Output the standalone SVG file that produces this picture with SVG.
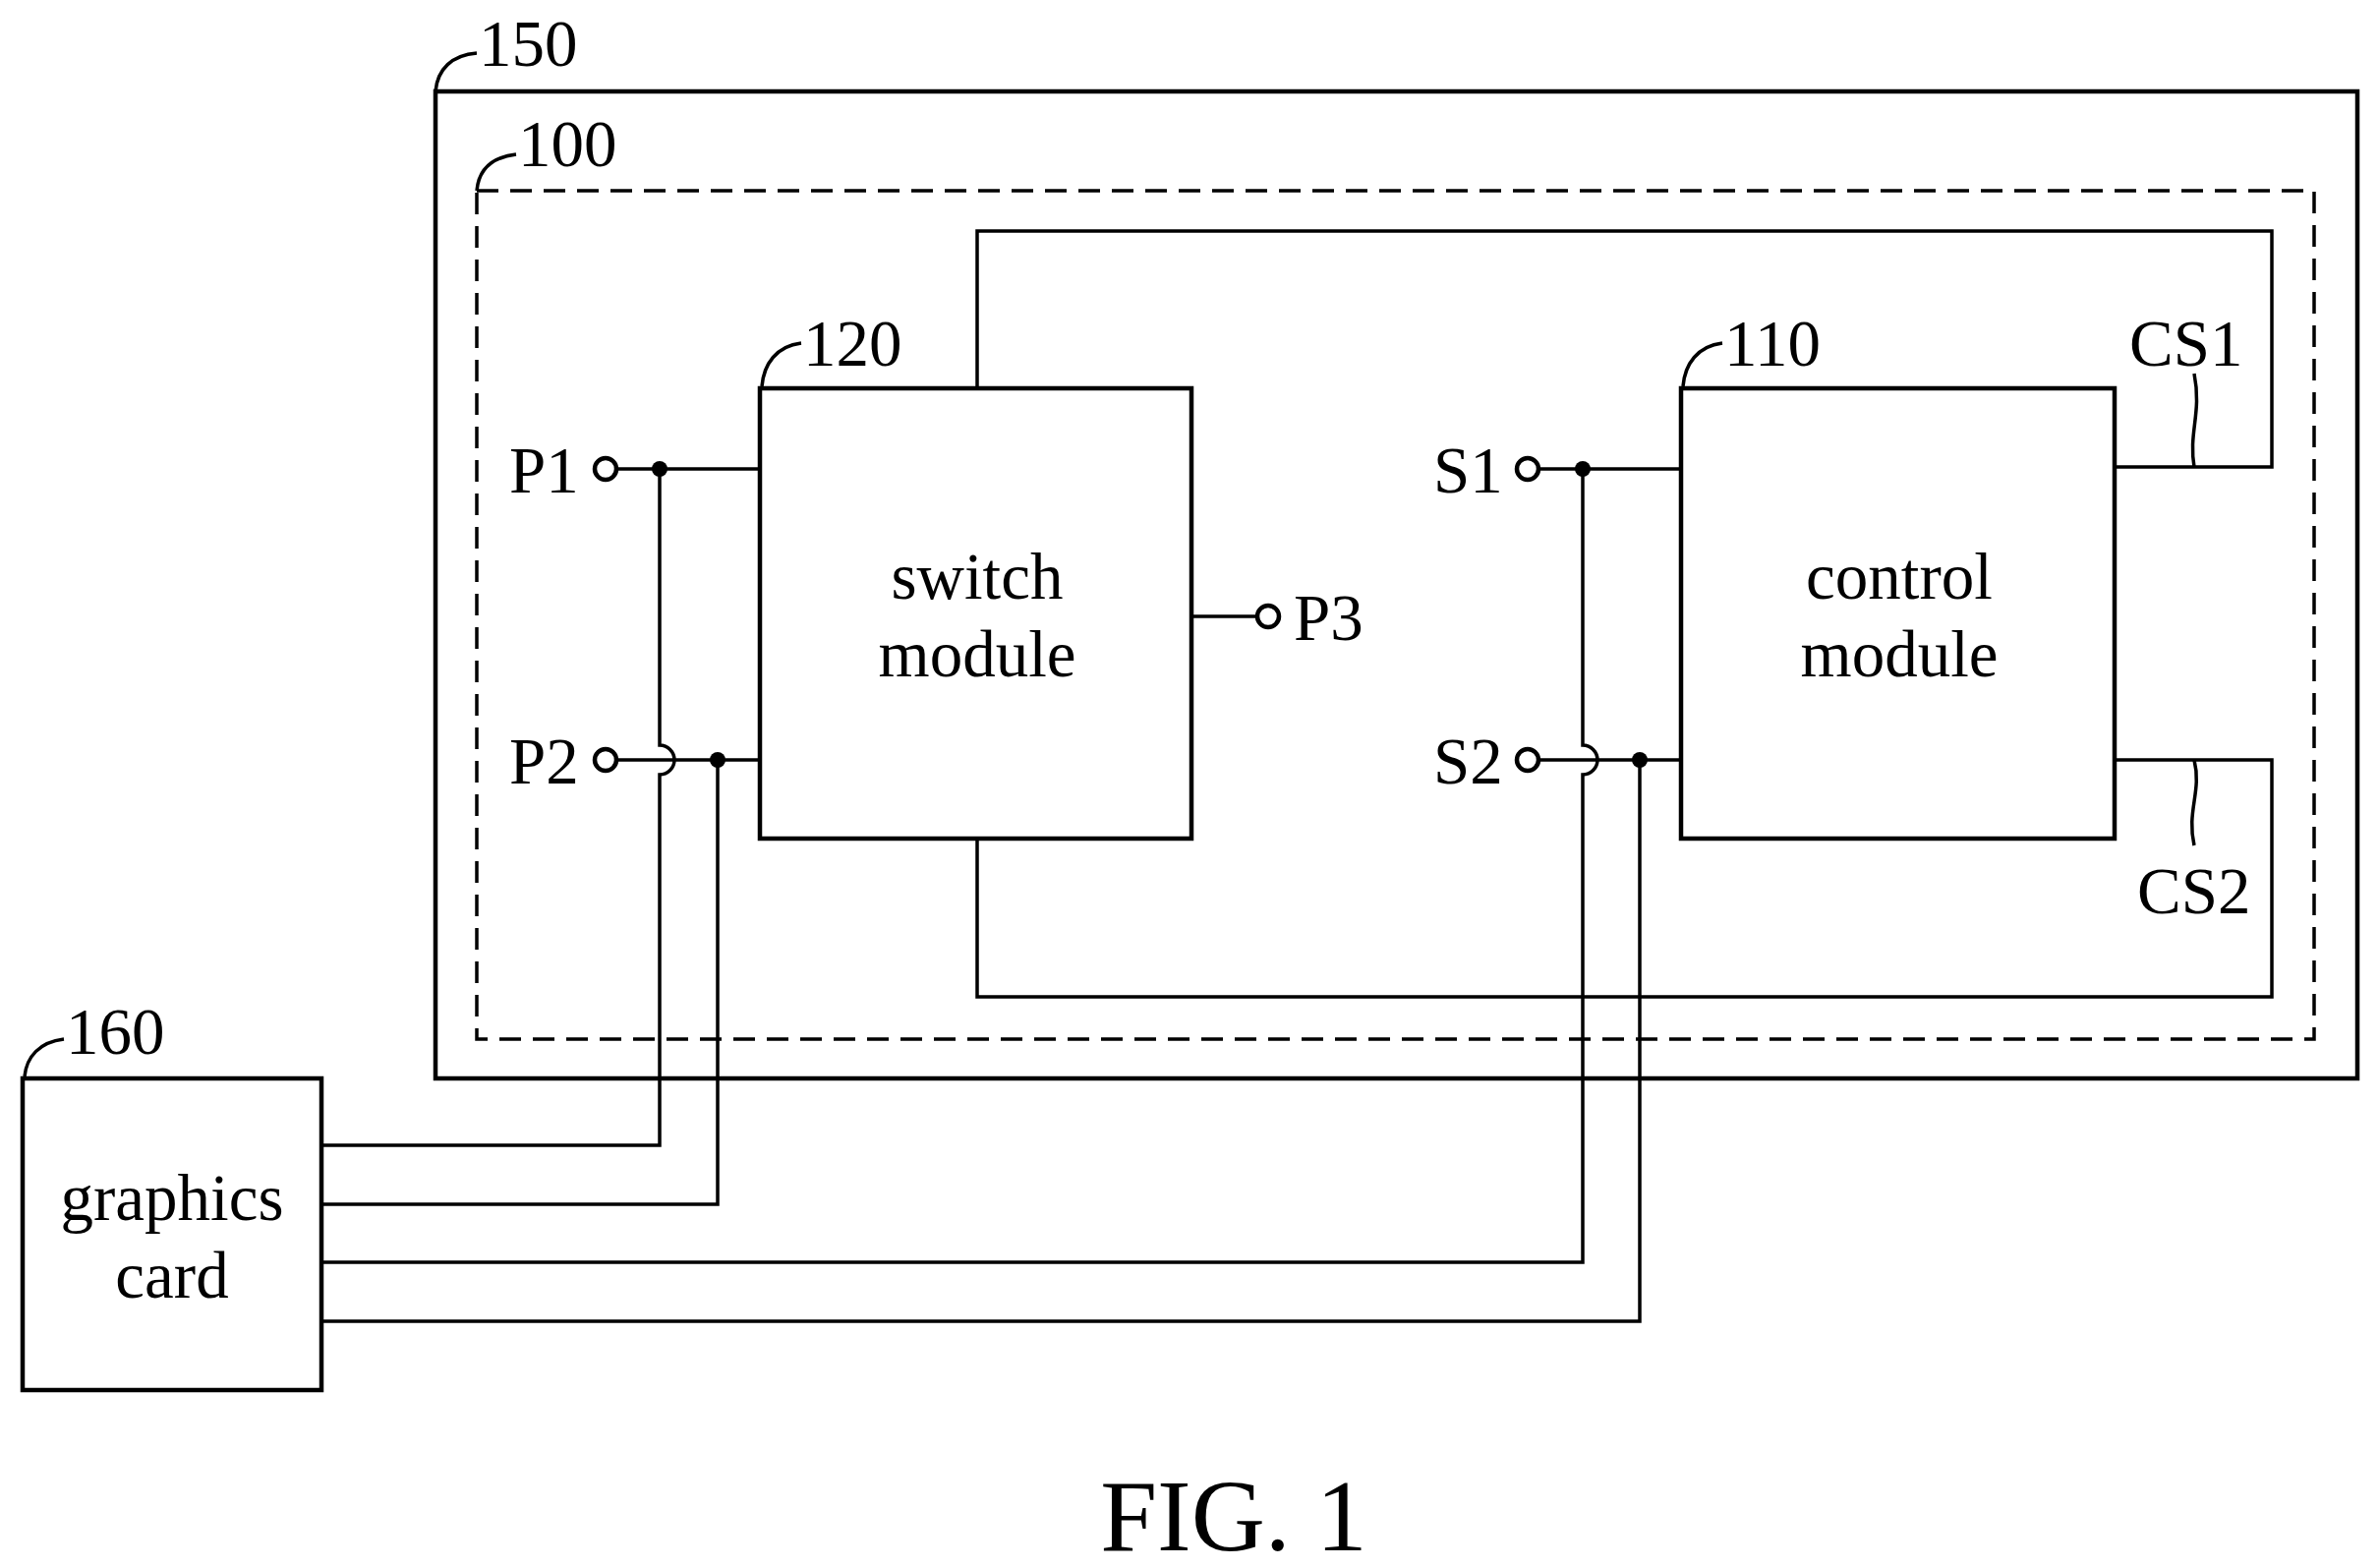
<svg xmlns="http://www.w3.org/2000/svg" width="2420" height="1595" viewBox="0 0 2420 1595">
<style>
.box{fill:#fff;stroke:#000;stroke-width:4.5}
.w{fill:none;stroke:#000;stroke-width:3.5}
.t{font-family:"Liberation Serif",serif;font-size:67px;fill:#000}
.c{text-anchor:middle}
.fig{font-size:104px}
.term{fill:#fff;stroke:#000;stroke-width:4.5}
</style>
<rect width="2420" height="1595" fill="#fff"/>
<g id="n150"><rect class="box" x="443" y="93" width="1955" height="1004" fill="none"/>
<path class="w" stroke-width="2" d="M443 93 C445 70 460 56 485 54"/><text class="t" x="487" y="67">150</text></g>
<g id="n100"><rect x="485" y="194" width="1869" height="863" fill="none" stroke="#000" stroke-width="3.5" stroke-dasharray="22 12"/>
<path class="w" stroke-width="2" d="M485 194 C487 172 500 160 525 157"/><text class="t" x="527" y="169">100</text></g>
<g id="connectors">
<path class="w" d="M994 395 V235 H2311 V475 H2151"/>
<path class="w" d="M994 853 V1014 H2311 V773 H2151"/>
<path class="w" d="M622 477 H773"/>
<path class="w" d="M622 773 H773"/>
<path class="w" d="M671 477 V758 A15 15 0 0 1 671 788 V1165 H327"/>
<path class="w" d="M730 773 V1225 H327"/>
<path class="w" d="M1212 627 H1284"/>
<path class="w" d="M1560 477 H1710"/>
<path class="w" d="M1560 773 H1710"/>
<path class="w" d="M1610 477 V758 A15 15 0 0 1 1610 788 V1284 H327"/>
<path class="w" d="M1668 773 V1344 H327"/>
<circle cx="671" cy="477" r="8"/><circle cx="730" cy="773" r="8"/>
<circle cx="1610" cy="477" r="8"/><circle cx="1668" cy="773" r="8"/>
<path class="w" stroke-width="2" d="M2232 475 C2226 440 2240 420 2232 380"/>
<path class="w" stroke-width="2" d="M2232 773 C2240 805 2224 825 2232 860"/>
</g>
<g id="P1"><circle class="term" cx="616" cy="477" r="11"/><text class="t" x="518" y="501">P1</text></g>
<g id="P2"><circle class="term" cx="616" cy="773" r="11"/><text class="t" x="518" y="797">P2</text></g>
<g id="P3"><circle class="term" cx="1290" cy="627" r="11"/><text class="t" x="1316" y="651">P3</text></g>
<g id="S1"><circle class="term" cx="1554" cy="477" r="11"/><text class="t" x="1458" y="501">S1</text></g>
<g id="S2"><circle class="term" cx="1554" cy="773" r="11"/><text class="t" x="1458" y="797">S2</text></g>
<g id="n120"><rect class="box" x="773" y="395" width="439" height="458"/>
<text class="t c" x="994" y="609">switch</text><text class="t c" x="994" y="688">module</text>
<path class="w" stroke-width="2" d="M775 393 C777 370 790 352 815 349"/><text class="t" x="817" y="372">120</text></g>
<g id="n110"><rect class="box" x="1710" y="395" width="441" height="458"/>
<text class="t c" x="1932" y="609">control</text><text class="t c" x="1932" y="688">module</text>
<path class="w" stroke-width="2" d="M1712 393 C1714 370 1727 352 1752 349"/><text class="t" x="1754" y="372">110</text></g>
<text class="t" x="2166" y="372">CS1</text>
<text class="t" x="2174" y="929">CS2</text>
<g id="n160"><rect class="box" x="23" y="1097" width="304" height="317"/>
<text class="t c" x="175" y="1241">graphics</text><text class="t c" x="175" y="1320">card</text>
<path class="w" stroke-width="2" d="M25 1095 C27 1075 40 1060 65 1057"/><text class="t" x="67" y="1072">160</text></g>
<text class="t c fig" x="1255" y="1577">FIG. 1</text>
</svg>
